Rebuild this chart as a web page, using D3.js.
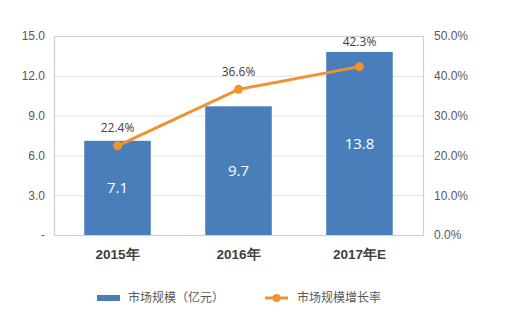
<!DOCTYPE html>
<html>
<head>
<meta charset="utf-8">
<script src="https://cdn.jsdelivr.net/npm/d3@7"></script>
<style>
  html, body { margin: 0; padding: 0; background: #fff; }
  svg { display: block; font-family: "Open Sans", "Noto Sans CJK SC", sans-serif; }
</style>
</head>
<body>
<svg id="chart" width="521" height="324"></svg>
<script>
// Market size (100M CNY) and its growth rate per year
const years = ["2015年", "2016年", "2017年E"];
const marketSize = [7.1, 9.7, 13.8];
const growthRate = [22.4, 36.6, 42.3];
const leftTicks = [0, 3, 6, 9, 12, 15];
const rightTicks = [0, 10, 20, 30, 40, 50];
const legendLabels = ["市场规模（亿元）", "市场规模增长率"];

const barColor = "#4A7EBB";
const lineColor = "#F0922E";
const textColor = "#595959";

const svg = d3.select("#chart");
const m = { left: 54, right: 423, top: 36, bottom: 235 };

const x = d3.scaleBand().domain(years).range([m.left, m.right]).paddingInner(0.45).paddingOuter(0.25);
const yL = d3.scaleLinear().domain([0, 15]).range([m.bottom, m.top]);
const yR = d3.scaleLinear().domain([0, 50]).range([m.bottom, m.top]);

// gridlines
svg.append("g").selectAll("line").data(leftTicks.slice(1, -1)).join("line")
  .attr("x1", m.left).attr("x2", m.right)
  .attr("y1", d => yL(d) + 0.5).attr("y2", d => yL(d) + 0.5)
  .attr("stroke", "#E4E4E4").attr("stroke-width", 1);

// plot frame
svg.append("rect")
  .attr("x", m.left + 0.5).attr("y", m.top + 0.5)
  .attr("width", m.right - m.left).attr("height", m.bottom - m.top)
  .attr("fill", "none").attr("stroke", "#D0D0D0").attr("stroke-width", 1.2);

// left axis
const leftAxis = d3.axisLeft(yL).tickValues(leftTicks).tickSize(0).tickPadding(9)
  .tickFormat(d => d === 0 ? "-" : d3.format(".1f")(d));
const gL = svg.append("g").attr("transform", `translate(${m.left},0)`).call(leftAxis);
gL.select(".domain").remove();
gL.selectAll("text").attr("fill", textColor).style("font-size", "12px");

// right axis
const rightAxis = d3.axisRight(yR).tickValues(rightTicks).tickSize(0).tickPadding(11)
  .tickFormat(d => d3.format(".1f")(d) + "%");
const gR = svg.append("g").attr("transform", `translate(${m.right},0)`).call(rightAxis);
gR.select(".domain").remove();
gR.selectAll("text").attr("fill", textColor).style("font-size", "12px");

// bottom axis
const bottomAxis = d3.axisBottom(x).tickSize(0).tickPadding(14);
const gB = svg.append("g").attr("transform", `translate(0,${m.bottom})`).call(bottomAxis);
gB.select(".domain").remove();
gB.selectAll("text").attr("fill", "#404040").style("font-size", "13.5px").style("font-weight", "600");

// bars
svg.append("g").selectAll("rect").data(marketSize).join("rect")
  .attr("x", (d, i) => x(years[i]))
  .attr("y", d => yL(d))
  .attr("width", x.bandwidth())
  .attr("height", d => yL(0) - yL(d))
  .attr("fill", barColor);

// bar value labels
svg.append("g").selectAll("text").data(marketSize).join("text")
  .attr("x", (d, i) => x(years[i]) + x.bandwidth() / 2)
  .attr("y", d => (yL(d) + yL(0)) / 2)
  .attr("dy", "0.35em")
  .attr("text-anchor", "middle")
  .attr("fill", "#fff")
  .style("font-size", "15px")
  .text(d => d3.format(".1f")(d));

// growth line
const cx = (d, i) => x(years[i]) + x.bandwidth() / 2;
const line = d3.line().x(cx).y(d => yR(d));
svg.append("path").datum(growthRate)
  .attr("d", line).attr("fill", "none")
  .attr("stroke", lineColor).attr("stroke-width", 3);
svg.append("g").selectAll("circle").data(growthRate).join("circle")
  .attr("cx", cx).attr("cy", d => yR(d)).attr("r", 4.5)
  .attr("fill", lineColor);

// growth labels, kept clear of the bar beneath them
svg.append("g").selectAll("text").data(growthRate).join("text")
  .attr("x", cx)
  .attr("y", (d, i) => Math.min(yR(d) - 18, yL(marketSize[i]) - 10))
  .attr("dy", "0.35em")
  .attr("text-anchor", "middle")
  .attr("fill", "#404040")
  .style("font-size", "12px")
  .text(d => d3.format(".1f")(d) + "%");

// legend
const lg = svg.append("g");
lg.append("rect").attr("x", 97).attr("y", 295).attr("width", 23).attr("height", 6).attr("fill", barColor);
lg.append("text").attr("x", 128).attr("y", 298).attr("dy", "0.35em")
  .attr("fill", textColor).style("font-size", "12px").text(legendLabels[0]);
lg.append("line").attr("x1", 265).attr("x2", 288).attr("y1", 298).attr("y2", 298)
  .attr("stroke", lineColor).attr("stroke-width", 3);
lg.append("circle").attr("cx", 276.5).attr("cy", 298).attr("r", 4).attr("fill", lineColor);
lg.append("text").attr("x", 297).attr("y", 298).attr("dy", "0.35em")
  .attr("fill", textColor).style("font-size", "12px").text(legendLabels[1]);
</script>
</body>
</html>
